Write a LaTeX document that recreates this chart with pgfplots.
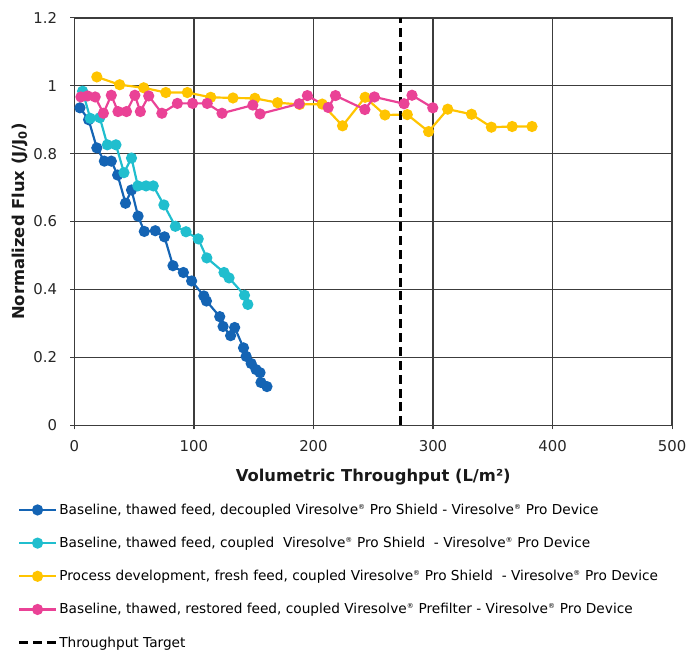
\documentclass[border=0pt]{standalone}
\usepackage{fontspec}
\setmainfont{DejaVu Sans}
\usepackage{pgfplots}
\pgfplotsset{compat=1.18}
\usetikzlibrary{calc}
\definecolor{cDark}{RGB}{20,100,180}
\definecolor{cCyan}{RGB}{32,190,206}
\definecolor{cGold}{RGB}{255,196,0}
\definecolor{cPink}{RGB}{234,66,150}
\definecolor{gridgray}{RGB}{60,60,60}
\newcommand{\reg}{\textsuperscript{\scriptsize ®}}
\begin{document}
\begin{tikzpicture}
\begin{axis}[
  name=ax,
  scale only axis,
  width=603bp, height=411bp,
  xmin=0, xmax=500, ymin=0, ymax=1.2,
  xtick={0,100,200,300,400,500},
  ytick={0,0.2,0.4,0.6,0.8,1,1.2},
  /pgf/number format/assume math mode=true,
  tick label style={font=\fontsize{15bp}{17bp}\selectfont, color=black!85},
  yticklabel style={xshift=-10bp},
  xticklabel style={yshift=-8bp},
  grid=major,
  major grid style={gridgray, line width=1.4bp},
  axis line style={gridgray, line width=1.4bp},
  tick style={gridgray, line width=1.2bp},
  tick align=outside,
  major tick length=4bp,
  xtick pos=bottom, ytick pos=left,
  xlabel={\textbf{Volumetric Throughput (L/m²)}},
  ylabel={\textbf{Normalized Flux (J/J\textsubscript{0})}},
  label style={font=\fontsize{16.5bp}{18bp}\selectfont, color=black!90},
  xlabel style={yshift=-10bp},
  ylabel style={yshift=-1bp},
  every axis plot/.append style={line width=2.2bp, mark=*, mark size=4.5bp},
  legend style={
    at={(-0.1,-0.183)}, anchor=north west, draw=none, fill=none,
    font=\fontsize{13.8bp}{16bp}\selectfont,
    row sep=17.5bp,
    legend cell align=left,
  },
  legend image code/.code={
    \draw[mark repeat=2,mark phase=2,#1] plot coordinates {(0bp,0bp) (18.5bp,0bp) (37bp,0bp)};
  },
]
% Baseline, thawed feed, decoupled
\addplot[cDark, mark options={fill=cDark, draw=cDark}] coordinates {
(4.7,0.935) (11.9,0.900) (18.8,0.817) (25.1,0.778) (30.9,0.778)
(36.2,0.737) (42.8,0.654) (47.8,0.693) (53.3,0.616) (58.5,0.571)
(67.7,0.573) (75.4,0.555) (82.5,0.470) (91.2,0.450) (98.1,0.425)
(108.3,0.381) (110.5,0.366) (121.6,0.320) (124.4,0.291) (130.7,0.264)
(134.1,0.288) (141.5,0.228) (143.7,0.203) (147.9,0.182) (152.0,0.164)
(155.3,0.155) (156.1,0.126) (161.1,0.114)
};
\addlegendentry{Baseline, thawed feed, decoupled Viresolve\reg{} Pro Shield - Viresolve\reg{} Pro Device}
% Baseline, thawed feed, coupled
\addplot[cCyan, mark options={fill=cCyan, draw=cCyan}] coordinates {
(6.9,0.984) (13.3,0.904) (21.3,0.906) (27.6,0.826) (34.8,0.826)
(41.5,0.744) (47.8,0.787) (53.1,0.705) (60.0,0.705) (66.0,0.705)
(74.9,0.649) (84.5,0.586) (93.4,0.570) (103.6,0.549) (110.8,0.493)
(125.2,0.450) (129.4,0.434) (142.3,0.383) (145.1,0.356)
};
\addlegendentry{Baseline, thawed feed, coupled\ \ Viresolve\reg{} Pro Shield\ \ - Viresolve\reg{} Pro Device}
% Process development
\addplot[cGold, mark options={fill=cGold, draw=cGold}] coordinates {
(18.8,1.026) (37.9,1.003) (58.0,0.994) (76.5,0.980) (94.5,0.980)
(114.1,0.966) (132.7,0.964) (151.0,0.963) (170.0,0.950) (188.5,0.945)
(207.3,0.946) (224.3,0.882) (243.2,0.966) (259.8,0.914) (278.5,0.915)
(296.3,0.865) (312.3,0.931) (332.2,0.916) (348.8,0.878) (366.2,0.880)
(382.8,0.880)
};
\addlegendentry{Process development, fresh feed, coupled Viresolve\reg{} Pro Shield\ \ - Viresolve\reg{} Pro Device}
% Baseline, thawed, restored feed
\addplot[cPink, mark options={fill=cPink, draw=cPink}] coordinates {
(5.5,0.967) (11.0,0.970) (17.4,0.967) (24.3,0.919) (30.9,0.972)
(36.5,0.924) (43.6,0.924) (50.6,0.972) (55.2,0.924) (62.2,0.970)
(73.2,0.919) (86.2,0.948) (98.9,0.948) (111.1,0.948) (123.5,0.919)
(149.3,0.943) (155.3,0.917) (188.0,0.947) (194.9,0.971) (212.3,0.936)
(218.4,0.971) (243.0,0.930) (251.0,0.967) (275.8,0.947) (282.4,0.972)
(299.8,0.935)
};
\addlegendentry{Baseline, thawed, restored feed, coupled Viresolve\reg{} Prefilter - Viresolve\reg{} Pro Device}
% Throughput target
\addplot[black, mark=none, line width=3bp, dash pattern=on 9bp off 5bp] coordinates {(272.5,0) (272.5,1.2)};
\addlegendentry{Throughput Target}
\end{axis}
\pgfresetboundingbox
\path[use as bounding box] ($(ax.south west)+(-75bp,-234bp)$) rectangle ($(ax.north east)+(15bp,18bp)$);
\end{tikzpicture}
\end{document}
